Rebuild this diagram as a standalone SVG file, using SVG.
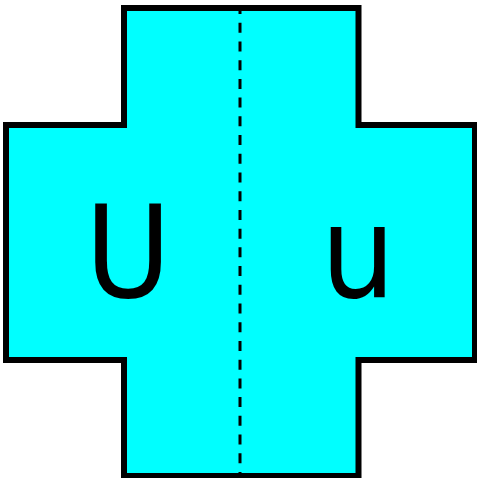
<svg xmlns="http://www.w3.org/2000/svg" width="477" height="478" viewBox="0 0 477 478">
<style>
.lbl{font-family:"DejaVu Sans",sans-serif;font-size:128px;fill:#000;text-anchor:middle}
</style>
<rect width="477" height="478" fill="#fff"/>
<g id="cross">
<path d="M124,8 H358.5 V125 H475 V360 H358.5 V476 H124 V360 H6 V125 H124 Z" fill="#00ffff" stroke="#000" stroke-width="6" stroke-linejoin="miter"/>
</g>
<g id="connectors">
<line x1="240" y1="11" x2="240" y2="473" stroke="#000" stroke-width="3" stroke-dasharray="10 8.72" stroke-dashoffset="7"/>
</g>
<g id="label-U"><text class="lbl" transform="translate(128,297) scale(0.92,1)">U</text></g>
<g id="label-u"><text class="lbl" transform="translate(358,297) scale(0.92,1)">u</text></g>
</svg>
